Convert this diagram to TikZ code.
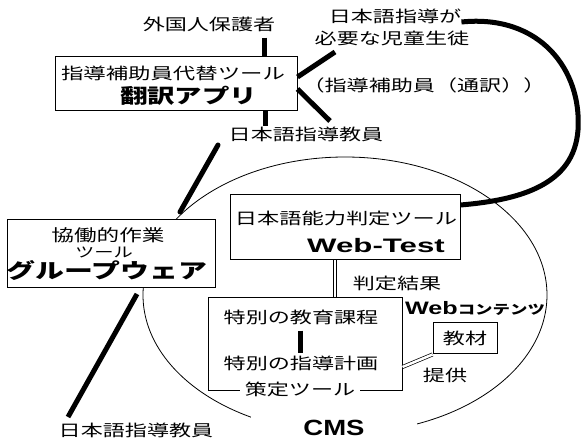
\documentclass[tikz,border=0pt]{standalone}
\usepackage{fontspec}
\usepackage{graphicx}
\setmainfont{Liberation Sans}
\newfontfamily\jp{Noto Sans CJK JP}
\newcommand{\hs}[2][1.38]{\scalebox{#1}[1]{#2}}
\begin{document}
\begin{tikzpicture}[x=1pt,y=-1pt,
  box/.style={draw, line width=1pt, fill=white, rectangle, inner sep=0pt},
  jt/.style={font=\jp\fontsize{16}{17}\selectfont, inner sep=0pt},
  jb/.style={font=\jp\bfseries\fontsize{20}{21}\selectfont, inner sep=0pt},
  lb/.style={font=\bfseries\fontsize{22}{22}\selectfont, inner sep=0pt},
  thk/.style={line width=5pt},
  thn/.style={line width=0.8pt},
  dbl/.style={double, line width=0.7pt, double distance=2.5pt}
]
\useasboundingbox (0,0) rectangle (582,441);
% CMS ellipse
\draw[thn] (345,295) ellipse [x radius=202, y radius=138];
\node[lb, fill=white, minimum width=166pt, minimum height=24pt] (cms) at (334,428) {\hs[1.25]{CMS}};

% boxes
\node[box, minimum width=242pt, minimum height=54pt] (app) at (176,84) {};
\node[box, minimum width=230pt, minimum height=65pt] (wt) at (345,227.5) {};
\node[box, minimum width=208pt, minimum height=68pt] (gw) at (111,254) {};
\node[box, minimum width=194pt, minimum height=92pt] (plan) at (305,344) {};
\node[box, minimum width=64pt, minimum height=31pt] (kz) at (465,338.5) {};

% texts
\node[jt] (gp) at (209,24) {\hs{外国人保護者}};
\node[jt] (a1) at (173,73.5) {\hs[1.4]{指導補助員代替ツール}};
\node[jb] (a2) at (188.5,96) {\hs[1.37]{翻訳アプリ}};
\node[jt] (nt1) at (306,134) {\hs{日本語指導教員}};
\node[jt] (ch1) at (395,16) {\hs{日本語指導が}};
\node[jt] (ch2) at (392,38) {\hs{必要な児童生徒}};
\node[jt] (tsu) at (424,85) {\hs{（指導補助員（通訳））}};
\node[jt] (w1) at (346,218.5) {\hs[1.39]{日本語能力判定ツール}};
\node[font=\bfseries\fontsize{19.5}{20}\selectfont, inner sep=0pt] (w2) at (376,246) {\hs[1.6]{Web-Test}};
\node[jt] (hk) at (397,283) {\hs{判定結果}};
\node[jt] (p1) at (301,317) {\hs{特別の教育課程}};
\node[jt] (p2) at (301,363) {\hs{特別の指導計画}};
\node[jt, fill=white, inner xsep=5pt] (p3) at (300,389) {\hs{策定ツール}};
\node[inner sep=0pt, font=\bfseries\fontsize{18}{18}\selectfont] (wc) at (475,308) {\hs[1.4]{Web}{\jp\fontsize{13}{13}\selectfont\hs[1.34]{コンテンツ}}};
\node[jt] (kzt) at (465,338.5) {\hs{教材}};
\node[jt] (tk) at (445,375) {\hs{提供}};
\node[font=\jp\fontsize{16.5}{17}\selectfont, inner sep=0pt] (g1) at (108,235.5) {\hs[1.37]{協働的作業}};
\node[font=\jp\fontsize{14}{14}\selectfont, inner sep=0pt] (g2) at (104,252) {\hs{ツール}};
\node[font=\jp\bfseries\fontsize{20.5}{21}\selectfont, inner sep=0pt] (g3) at (107,271) {\hs[1.41]{グループウェア}};
\node[jt] (nt2) at (136,430) {\hs{日本語指導教員}};

% coordinates for connector ends
\coordinate (c1) at (218,145);
\coordinate (c2) at (180,212);
\coordinate (c3) at (137,294);
\coordinate (c4) at (68,417);

% connectors
\draw[thk] (gp.south -| 264,0) ++(0,6) -- (app.north -| 264,0);
\draw[thk] (app.south -| 265,0) -- ++(0,15);
\draw[thk] (app.east |- 0,77) -- (335,52);
\draw[thk] (app.east |- 0,89) -- (330,121);
\draw[thk, line cap=round] (c1) -- (c2);
\draw[thk] (c3) -- (c4);
\draw[thk] (ch1.east |- 0,22) .. controls (540,14) and (582,70) .. (578,130)
  .. controls (574,185) and (520,200) .. (wt.east |- 0,205);
\draw[dbl] (wt.south -| 335,0) -- (plan.north -| 335,0);
\draw[dbl] (plan.east |- 0,367) -- (kz.south west);
\draw[thk] (p1.south -| 300,0) ++(0,6) -- ++(0,22);
\end{tikzpicture}
\end{document}
